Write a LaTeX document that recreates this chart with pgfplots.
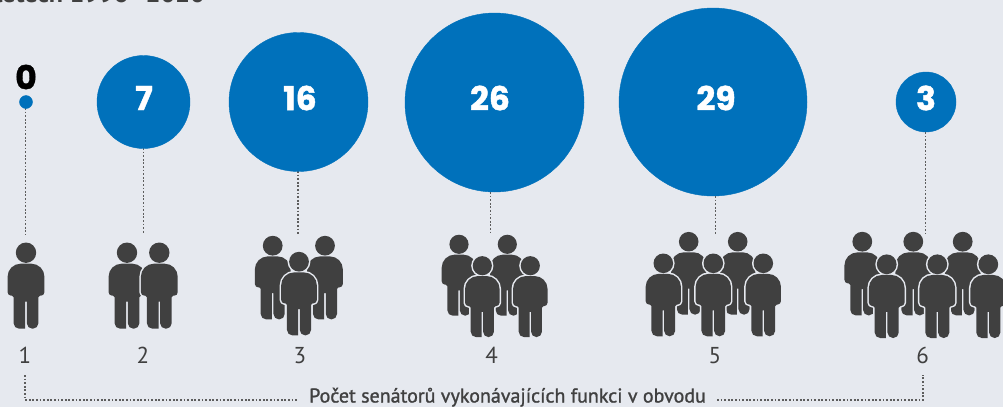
\documentclass[border=0pt]{standalone}
\usepackage{pgfplots}
\pgfplotsset{compat=1.18}
\usepackage{pgfplotstable}
\usepackage{fontspec}
\setmainfont{PT Sans}
\newfontfamily\numfont{Poppins}[BoldFeatures={FakeBold=1.2}]
\newfontfamily\semifont{PT Sans}[FakeBold=1.2]
\definecolor{bg}{HTML}{E6E9EF}
\definecolor{bub}{HTML}{0071BB}
\definecolor{dark}{HTML}{404040}
\newcommand{\fs}[1]{\fontsize{#1}{#1}\selectfont}

% person icon, origin at the centre of the head (y dir=reverse flips marks, so y runs down here)
\newcommand{\personshape}{
  (-0.8,76) [rounded corners=5.5pt] -- (-12.4,76) [rounded corners=1.5pt] -- (-12.4,43) [rounded corners=3.5pt] -- (-18.4,43)
  [rounded corners=13pt] -- (-18.4,11) -- (18.4,11) [rounded corners=3.5pt] -- (18.4,43) [rounded corners=1.5pt] -- (12.4,43)
  [rounded corners=5.5pt] -- (12.4,76) -- (0.8,76) [sharp corners] -- (0.8,49) -- (-0.8,49) -- cycle
  (0,0) circle (10.2pt)}
\pgfdeclareplotmark{person}{
  \path[draw=bg,line width=3pt,line join=round,fill=bg] \personshape;
  \path[fill=dark,draw=none] \personshape;
}

\pgfplotstableread{
x y r
26 102 6.5
143.5 102 46.5
298.5 102 69.5
494.5 102.5 89.5
713 102 94
926 102 30
}\bubbles

\begin{document}
\begin{tikzpicture}
\begin{axis}[name=ax, hide axis, scale only axis, width=1003pt, height=407pt,
  xmin=0, xmax=1003, ymin=0, ymax=407, y dir=reverse]
\fill[bg] (rel axis cs:0,0) rectangle (rel axis cs:1,1);

% leaders from bubbles to the groups
\pgfplotsset{leader/.style={color=dark!85, line width=1.1pt, dash pattern=on 1.8pt off 1.8pt, mark=none, forget plot}}
\addplot[leader] coordinates {(25.5,108) (25.5,235)};
\addplot[leader] coordinates {(143.5,148) (143.5,234)};
\addplot[leader] coordinates {(298,171) (298,234)};
\addplot[leader] coordinates {(490.5,192) (490.5,235)};
\addplot[leader] coordinates {(715.5,196) (715.5,234)};
\addplot[leader] coordinates {(925.5,132) (925.5,234)};
\addplot[leader] coordinates {(25,375) (25,400) (297,400)};
\addplot[leader] coordinates {(717,400) (923,400) (923,375)};

% bubbles
\addplot[scatter, only marks, mark=*, forget plot,
  scatter/use mapped color={draw=bub, fill=bub},
  visualization depends on={\thisrow{r} \as \rad},
  scatter/@pre marker code/.append style={/tikz/mark size=\rad}]
  table[x=x, y=y] {\bubbles};

% people, head positions, back row first
\addplot[only marks, mark=person, forget plot] coordinates {(26,252.7)};
\addplot[only marks, mark=person, forget plot] coordinates {(127,252.7) (159.3,252.7)};
\addplot[only marks, mark=person, mark options={scale=0.97}, forget plot] coordinates {(272.7,245.7) (325,245.7) (299,261.7)};
\addplot[only marks, mark=person, mark options={scale=0.94}, forget plot] coordinates {(459,244.3) (507.3,244.3) (482.3,265.7) (530.3,265.7)};
\addplot[only marks, mark=person, mark options={scale=0.96}, forget plot] coordinates {(688.7,241.7) (737.7,241.7) (663.3,263.3) (713.3,263.3) (763.3,263.3)};
\addplot[only marks, mark=person, mark options={scale=0.97}, forget plot] coordinates {(862.3,241.7) (913.3,241.7) (962.7,241.7) (886.7,264.3) (937.3,264.3) (988.3,264.3)};

% bubble values
\addplot[only marks, mark=none, point meta=explicit symbolic, nodes near coords,
  nodes near coords style={anchor=center, text=white, font=\numfont\bfseries\fs{33}}]
  coordinates {(144,98)[7] (300,98)[16] (490,98)[26] (716,98)[29] (926,98)[3]};
\addplot[only marks, mark=none, point meta=explicit symbolic, nodes near coords,
  nodes near coords style={anchor=center, text=black, font=\numfont\bfseries\fs{33}}]
  coordinates {(26,77)[0]};

% group sizes
\addplot[only marks, mark=none, point meta=explicit symbolic, nodes near coords,
  nodes near coords style={anchor=center, text=dark, font=\fs{23}}]
  coordinates {(25,355.7)[1] (143,355.7)[2] (300,355.7)[3] (491.7,355.7)[4] (715,355.7)[5] (922.7,355.7)[6]};

\node[anchor=base, text=dark, font=\semifont\fs{20}, inner sep=0pt] at (axis cs:507.5,402.5) {Počet senátorů vykonávajících funkci v obvodu};
\node[anchor=base east, text=dark, font=\bfseries\fs{26}, inner sep=0pt] at (axis cs:205,2.5) {V letech 1996--2020};
\end{axis}
\pgfresetboundingbox
\path[use as bounding box] (ax.south west) rectangle (ax.north east);
\end{tikzpicture}
\end{document}
